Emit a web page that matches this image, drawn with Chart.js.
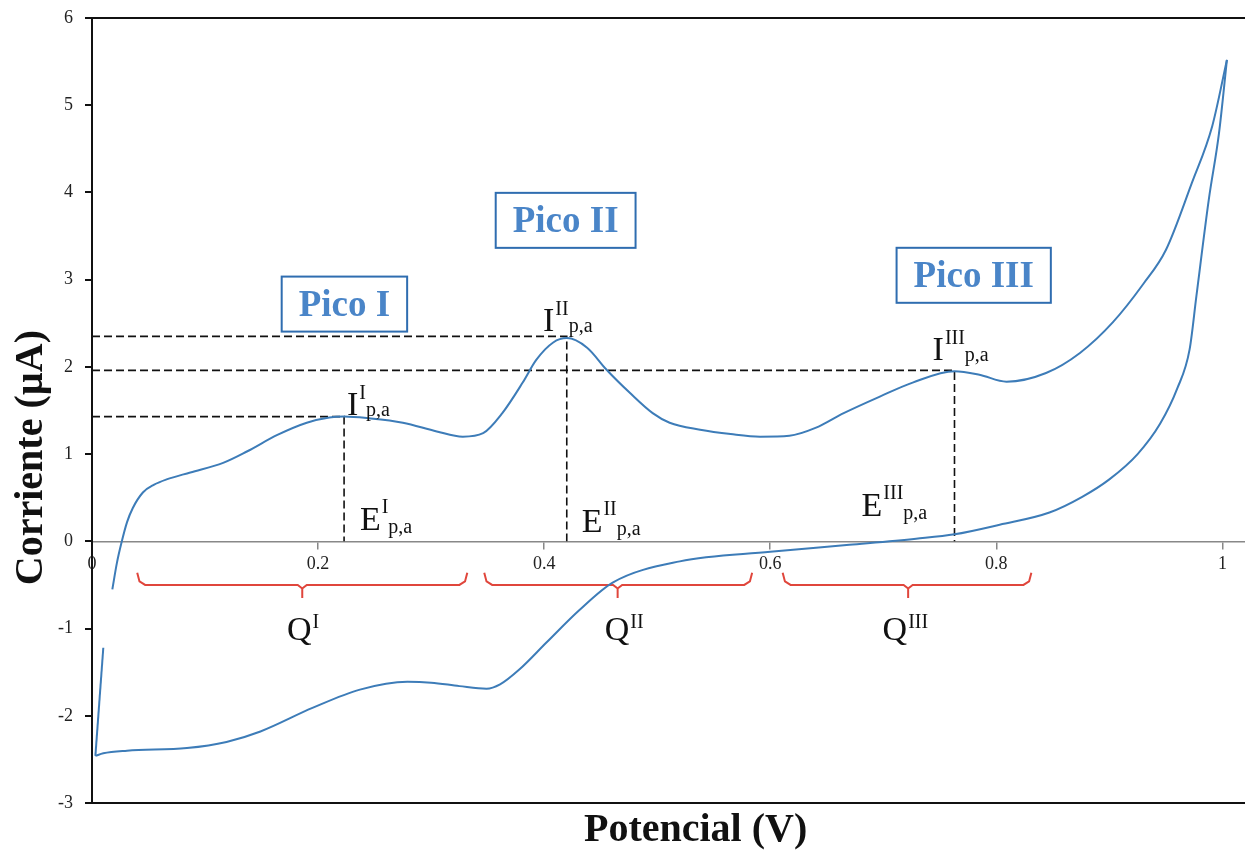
<!DOCTYPE html>
<html><head><meta charset="utf-8">
<script src="https://cdn.jsdelivr.net/npm/chart.js@4.4.0/dist/chart.umd.min.js"></script>
<style>html,body{margin:0;padding:0;background:#fff;} #wrap{width:1245px;height:856px;}</style>
</head><body><div id="wrap"><canvas id="c" width="1245" height="856"></canvas></div>
<script>
// ---- data (potential in V, current in µA) ----
const forwardE = [0.018,0.022,0.026,0.031,0.036,0.045,0.055,0.066,0.087,0.116,0.137,0.164,0.190,0.210,0.223,0.245,0.275,0.305,0.328,0.346,0.363,0.381,0.393,0.408,0.420,0.438,0.455,0.476,0.496,0.511,0.538,0.565,0.591,0.617,0.640,0.665,0.697,0.726,0.763,0.785,0.809,0.844,0.874,0.903,0.930,0.950,0.973,0.991,1.004];
const forwardI = [-0.55,-0.25,-0.02,0.22,0.38,0.56,0.65,0.71,0.79,0.90,1.03,1.22,1.36,1.42,1.43,1.41,1.36,1.26,1.20,1.24,1.47,1.82,2.08,2.28,2.33,2.22,1.97,1.70,1.47,1.36,1.28,1.23,1.20,1.21,1.30,1.47,1.66,1.82,1.95,1.91,1.83,1.93,2.16,2.51,2.95,3.34,4.11,4.76,5.52];
const returnE = [1.004,0.997,0.988,0.977,0.971,0.960,0.945,0.925,0.900,0.876,0.847,0.803,0.763,0.729,0.670,0.600,0.520,0.461,0.431,0.402,0.378,0.361,0.349,0.325,0.300,0.279,0.237,0.195,0.149,0.119,0.084,0.031,0.010,0.003];
const returnI = [5.52,4.68,3.92,2.81,2.20,1.75,1.35,1.00,0.71,0.51,0.33,0.19,0.08,0.03,-0.04,-0.12,-0.23,-0.47,-0.79,-1.16,-1.47,-1.64,-1.69,-1.66,-1.62,-1.61,-1.70,-1.91,-2.18,-2.30,-2.37,-2.40,-2.43,-2.46];
const tailE = [0.003, 0.010];
const tailI = [-2.46, -1.22];

const peakNames = ['I', 'II', 'III'];
const peakE = [0.223, 0.420, 0.763];
const peakI = [1.43, 2.35, 1.96];

const qStart = [0.040, 0.347, 0.611];
const qEnd   = [0.332, 0.584, 0.831];
const qMid   = [0.186, 0.465, 0.722];

const xTicks = [0, 0.2, 0.4, 0.6, 0.8, 1];
const yTicks = [-3, -2, -1, 0, 1, 2, 3, 4, 5, 6];

// ---- annotation placement (data units) ----
const picoX = [0.2233, 0.419, 0.780];
const picoY = [2.72, 3.68, 3.05];
const ipaX = [0.2255, 0.399, 0.7436], ipaY = [1.45, 2.41, 2.08];
const epaX = [0.237, 0.4332, 0.6808], epaY = [0.13, 0.11, 0.29];
const qLblX = [0.1724, 0.4536, 0.6994], qLblY = -1.13;

const pts = (xs, ys) => xs.map((v, i) => ({x: v, y: ys[i]}));
const curveColor = '#3d7cb8';
const datasets = [];
datasets.push({data: pts(forwardE, forwardI), borderColor: curveColor, borderWidth: 2, cubicInterpolationMode: 'monotone', pointRadius: 0, showLine: true});
datasets.push({data: pts(returnE, returnI), borderColor: curveColor, borderWidth: 2, cubicInterpolationMode: 'monotone', pointRadius: 0, showLine: true});
datasets.push({data: pts(tailE, tailI), borderColor: curveColor, borderWidth: 2, tension: 0, pointRadius: 0, showLine: true});
peakE.forEach((e, i) => {
  datasets.push({data: [{x: 0, y: peakI[i]}, {x: e, y: peakI[i]}, {x: e, y: 0}], borderColor: '#111', borderWidth: 1.6, borderDash: [8, 4], tension: 0, pointRadius: 0, showLine: true});
});
const hookY = -0.36, barY = -0.50, tipY = -0.65;
qStart.forEach((s, i) => {
  const e = qEnd[i], m = qMid[i];
  datasets.push({data: [
    {x: s, y: hookY}, {x: s + 0.002, y: barY + 0.04}, {x: s + 0.007, y: barY},
    {x: m - 0.004, y: barY}, {x: m, y: barY - 0.04}, {x: m, y: tipY}, {x: m, y: barY - 0.04}, {x: m + 0.004, y: barY},
    {x: e - 0.007, y: barY}, {x: e - 0.002, y: barY + 0.04}, {x: e, y: hookY}
  ], borderColor: '#e0463c', borderWidth: 2, tension: 0, pointRadius: 0, showLine: true});
});

function drawSS(ctx, main, sup, sub, px, py, supDy, subDy) {
  ctx.font = '34px "Liberation Serif"';
  ctx.fillText(main, px, py);
  const w = ctx.measureText(main).width + 1;
  ctx.font = '20px "Liberation Serif"';
  ctx.fillText(sup, px + w, py + supDy);
  const ws = ctx.measureText(sup).width;
  if (sub) ctx.fillText(sub, px + w + ws, py + subDy);
}

const annot = {
  id: 'annot',
  afterDraw(chart) {
    const {ctx, chartArea: a, scales: {x, y}} = chart;
    ctx.save();
    ctx.strokeStyle = '#111'; ctx.lineWidth = 2;
    ctx.beginPath();
    ctx.moveTo(a.left, a.top); ctx.lineTo(a.right, a.top);
    ctx.moveTo(a.left, a.bottom); ctx.lineTo(a.right, a.bottom);
    ctx.stroke();
    // Pico boxes
    ctx.font = 'bold 37px "Liberation Serif"';
    ctx.textAlign = 'center'; ctx.textBaseline = 'middle';
    peakNames.forEach((n, i) => {
      const t = 'Pico ' + n;
      const cx = x.getPixelForValue(picoX[i]), cy = y.getPixelForValue(picoY[i]);
      const w = ctx.measureText(t).width + 34, h = 55;
      ctx.fillStyle = '#fff'; ctx.fillRect(cx - w / 2, cy - h / 2, w, h);
      ctx.strokeStyle = '#2f6db0'; ctx.lineWidth = 2;
      ctx.strokeRect(cx - w / 2, cy - h / 2, w, h);
      ctx.fillStyle = '#4a85c8';
      ctx.fillText(t, cx, cy + 2);
    });
    // peak labels
    ctx.textAlign = 'left'; ctx.textBaseline = 'alphabetic'; ctx.fillStyle = '#111';
    peakNames.forEach((n, i) => {
      drawSS(ctx, 'I', n, 'p,a', x.getPixelForValue(ipaX[i]), y.getPixelForValue(ipaY[i]), -16, 1);
      drawSS(ctx, 'E', n, 'p,a', x.getPixelForValue(epaX[i]), y.getPixelForValue(epaY[i]), -17, 3);
      drawSS(ctx, 'Q', n, '', x.getPixelForValue(qLblX[i]), y.getPixelForValue(qLblY), -12, 0);
    });
    // axis titles
    ctx.fillStyle = '#111';
    ctx.font = 'bold 40px "Liberation Serif"';
    ctx.textAlign = 'center'; ctx.textBaseline = 'middle';
    ctx.fillText('Potencial (V)', x.getPixelForValue(0.534), a.bottom + 28);
    ctx.translate(a.left - 60, y.getPixelForValue(0.96));
    ctx.rotate(-Math.PI / 2);
    ctx.fillText('Corriente (\u00B5A)', 0, 0);
    ctx.restore();
  }
};

const fmt = v => String(Number(v.toFixed(1)));

new Chart(document.getElementById('c'), {
  type: 'scatter',
  data: {datasets},
  options: {
    responsive: false, animation: false, devicePixelRatio: 1,
    layout: {padding: {top: 18, right: 0, bottom: 53, left: 0}},
    plugins: {legend: {display: false}, tooltip: {enabled: false}},
    scales: {
      x: {
        type: 'linear', position: {y: 0}, min: 0, max: 1.02,
        afterBuildTicks: s => { s.ticks = xTicks.map(v => ({value: v})); },
        ticks: {font: {family: 'Liberation Serif', size: 18}, color: '#222', padding: 5, callback: fmt},
        grid: {drawOnChartArea: false, color: '#888', tickLength: 7, lineWidth: 1.5},
        border: {color: '#888', width: 1.5}
      },
      y: {
        type: 'linear', position: 'left', min: -3, max: 6,
        afterBuildTicks: s => { s.ticks = yTicks.map(v => ({value: v})); },
        afterFit: s => { s.width = 92; s.paddingTop = 0; s.paddingBottom = 0; },
        ticks: {font: {family: 'Liberation Serif', size: 18}, color: '#222', padding: 12, callback: fmt},
        grid: {drawOnChartArea: false, color: '#111', tickLength: 7, lineWidth: 2},
        border: {color: '#111', width: 2}
      }
    }
  },
  plugins: [annot]
});
</script></body></html>
